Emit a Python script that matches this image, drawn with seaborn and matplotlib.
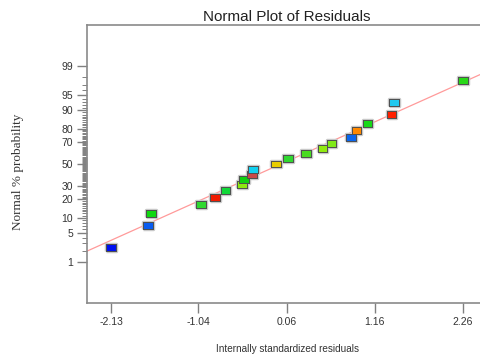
import matplotlib
matplotlib.use("Agg")
import matplotlib.pyplot as plt
import matplotlib.patheffects as pe
import numpy as np
import pandas as pd
import seaborn as sns
from statistics import NormalDist

# residuals, sorted, with their normal % probability
residuals = [-2.13, -1.67, -1.63, -1.01, -0.83, -0.70, -0.50, -0.47, -0.37, -0.36, -0.07,
             0.08, 0.30, 0.51, 0.62, 0.86, 0.93, 1.07, 1.37, 1.40, 2.26]
probability = [2.38, 7.14, 11.90, 16.67, 21.43, 26.19, 30.95, 35.71, 40.48, 45.24, 50.00,
               54.76, 59.52, 64.29, 69.05, 73.81, 78.57, 83.33, 88.10, 92.86, 97.62]
point_colors = ["#0010f0", "#0a5cf0", "#10d810", "#30d830", "#f01a00", "#10d838", "#8ee810",
                "#10d010", "#c84848", "#10d0f0", "#e8cc00", "#30d830", "#48dc20", "#90ea10",
                "#80ea18", "#0a66ee", "#ff8800", "#18d818", "#ff2000", "#20c8ee", "#28d818"]

x_ticks = [-2.13, -1.04, 0.06, 1.16, 2.26]
y_ticks = [1, 5, 10, 20, 30, 50, 70, 80, 90, 95, 99]

# reference line (mean, sd) as drawn
line_mean, line_sd = -0.01, 1.17

nd = NormalDist()
df = pd.DataFrame({
    "resid": residuals,
    "z": [nd.inv_cdf(p / 100) for p in probability],
    "run": [str(i) for i in range(len(residuals))],
})
palette = dict(zip(df["run"], point_colors))

sns.set_style("white")
plt.rcParams["font.family"] = ["Liberation Sans", "DejaVu Sans"]

fig = plt.figure(figsize=(4.81, 3.54), dpi=100)
ax = fig.add_axes([87 / 481, 1 - 303 / 354, 400 / 481, 278 / 354])

xlim = (-2.43, 2.56)
ax.set_xlim(*xlim)
ax.set_ylim(-3.30, 3.30)

# fitted normal line
lx = np.array(xlim)
sns.lineplot(x=lx, y=(lx - line_mean) / line_sd, color="#ff9a9a", linewidth=0.9, ax=ax)

rect = [(-1, -0.72), (1, -0.72), (1, 0.72), (-1, 0.72), (-1, -0.72)]
sns.scatterplot(data=df, x="resid", y="z", hue="run", palette=palette, legend=False,
                marker=rect, s=48, edgecolor="#505050", linewidth=0.7, ax=ax, zorder=3,
                path_effects=[pe.withStroke(linewidth=2.5, foreground="#c8c8c8"), pe.Normal()])

ax.set_xticks(x_ticks)
ax.set_xticklabels([f"{t:.2f}" for t in x_ticks])
ax.set_yticks([nd.inv_cdf(p / 100) for p in y_ticks])
ax.set_yticklabels([str(p) for p in y_ticks])
minor = [p for p in range(2, 99) if p not in y_ticks]
ax.set_yticks([nd.inv_cdf(p / 100) for p in minor], minor=True)

ax.tick_params(axis="both", which="major", direction="out", length=7, width=1,
               color="#808080", labelsize=7.5, labelcolor="#333333", pad=3,
               bottom=True, left=True)
ax.tick_params(axis="y", which="minor", direction="out", length=3.5, width=0.7,
               color="#808080", left=True)
for s in ax.spines.values():
    s.set_color("#8a8a8a")
    s.set_linewidth(1.2)

ax.set_title("Normal Plot of Residuals", fontsize=11, color="#222222", pad=3)
ax.set_xlabel("Internally standardized residuals", fontsize=7.2, color="#333333", labelpad=12)
ax.set_ylabel("Normal % probability", fontsize=9.5, color="#333333",
              family=["Liberation Serif"])
ax.yaxis.set_label_coords(-0.1575, 0.471)

fig.savefig("out.png", dpi=100)
